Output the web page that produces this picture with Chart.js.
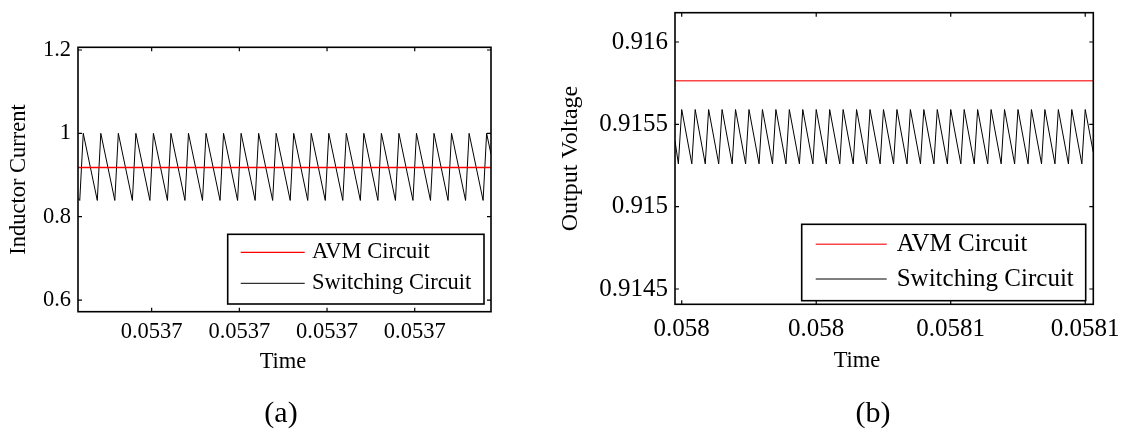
<!DOCTYPE html>
<html lang="en">
<head>
<meta charset="UTF-8">
<title>Inductor current and output voltage</title>
<script src="https://cdn.jsdelivr.net/npm/chart.js@4"></script>
<style>
  body {
    margin: 0;
    background: #fff;
    width: 1125px;
    height: 433px;
    position: relative;
    overflow: hidden;
    font-family: "Liberation Serif", "Times New Roman", serif;
  }
  canvas { position: absolute; top: 0; }
  .lbl {
    position: absolute;
    transform: translate(-50%, -50%);
    line-height: 1;
    white-space: nowrap;
    color: #000;
  }
</style>
</head>
<body>
<canvas id="currentChart" width="560" height="433" style="left:0"></canvas>
<canvas id="voltageChart" width="575" height="433" style="left:550px"></canvas>
<div class="lbl" style="left:283px;top:361px;font-size:22.5px">Time</div>
<div class="lbl" style="left:857px;top:360px;font-size:22.5px">Time</div>
<div class="lbl" style="left:281px;top:412px;font-size:30px">(a)</div>
<div class="lbl" style="left:873px;top:412px;font-size:30px">(b)</div>

<script>
// ---- (a) inductor current ----
const timeA = [
  0.0536516,
  0.0536518, 0.0536522,
  0.0536538, 0.0536542,
  0.0536558, 0.0536562,
  0.0536578, 0.0536582,
  0.0536598, 0.0536602,
  0.0536618, 0.0536622,
  0.0536638, 0.0536642,
  0.0536658, 0.0536662,
  0.0536678, 0.0536682,
  0.0536698, 0.0536702,
  0.0536718, 0.0536722,
  0.0536738, 0.0536742,
  0.0536758, 0.0536762,
  0.0536778, 0.0536782,
  0.0536798, 0.0536802,
  0.0536818, 0.0536822,
  0.0536838, 0.0536842,
  0.0536858, 0.0536862,
  0.0536878, 0.0536882,
  0.0536898, 0.0536902,
  0.0536918, 0.0536922,
  0.0536938, 0.0536942,
  0.0536958, 0.0536962,
  0.0536978, 0.0536982,
  0.0536987
];
const currentA = [
  0.845,
  0.839, 1.0,
  0.839, 1.0,
  0.839, 1.0,
  0.839, 1.0,
  0.839, 1.0,
  0.839, 1.0,
  0.839, 1.0,
  0.839, 1.0,
  0.839, 1.0,
  0.839, 1.0,
  0.839, 1.0,
  0.839, 1.0,
  0.839, 1.0,
  0.839, 1.0,
  0.839, 1.0,
  0.839, 1.0,
  0.839, 1.0,
  0.839, 1.0,
  0.839, 1.0,
  0.839, 1.0,
  0.839, 1.0,
  0.839, 1.0,
  0.839, 1.0,
  0.839, 1.0,
  0.95
];
const avmTimeA = [0.0536516, 0.0536987];
const avmCurrentA = [0.918, 0.918];
const xTicksA = [0.05366, 0.05367, 0.05368, 0.05369];
const xLabelsA = ['0.0537', '0.0537', '0.0537', '0.0537'];
const yTicksA = [0.6, 0.8, 1.0, 1.2];
const yLabelsA = ['0.6', '0.8', '1', '1.2'];

// ---- (b) output voltage ----
const timeB = [
  0.0580190,
  0.0580195, 0.0580200,
  0.0580215, 0.0580220,
  0.0580235, 0.0580240,
  0.0580255, 0.0580260,
  0.0580275, 0.0580280,
  0.0580295, 0.0580300,
  0.0580315, 0.0580320,
  0.0580335, 0.0580340,
  0.0580355, 0.0580360,
  0.0580375, 0.0580380,
  0.0580395, 0.0580400,
  0.0580415, 0.0580420,
  0.0580435, 0.0580440,
  0.0580455, 0.0580460,
  0.0580475, 0.0580480,
  0.0580495, 0.0580500,
  0.0580515, 0.0580520,
  0.0580535, 0.0580540,
  0.0580555, 0.0580560,
  0.0580575, 0.0580580,
  0.0580595, 0.0580600,
  0.0580615, 0.0580620,
  0.0580635, 0.0580640,
  0.0580655, 0.0580660,
  0.0580675, 0.0580680,
  0.0580695, 0.0580700,
  0.0580715, 0.0580720,
  0.0580735, 0.0580740,
  0.0580755, 0.0580760,
  0.0580775, 0.0580780,
  0.0580795, 0.0580800,
  0.0580812
];
const voltageB = [
  0.91540,
  0.91526, 0.91559,
  0.91526, 0.91559,
  0.91526, 0.91559,
  0.91526, 0.91559,
  0.91526, 0.91559,
  0.91526, 0.91559,
  0.91526, 0.91559,
  0.91526, 0.91559,
  0.91526, 0.91559,
  0.91526, 0.91559,
  0.91526, 0.91559,
  0.91526, 0.91559,
  0.91526, 0.91559,
  0.91526, 0.91559,
  0.91526, 0.91559,
  0.91526, 0.91559,
  0.91526, 0.91559,
  0.91526, 0.91559,
  0.91526, 0.91559,
  0.91526, 0.91559,
  0.91526, 0.91559,
  0.91526, 0.91559,
  0.91526, 0.91559,
  0.91526, 0.91559,
  0.91526, 0.91559,
  0.91526, 0.91559,
  0.91526, 0.91559,
  0.91526, 0.91559,
  0.91526, 0.91559,
  0.91526, 0.91559,
  0.91526, 0.91559,
  0.91533
];
const avmTimeB = [0.0580190, 0.0580812];
const avmVoltageB = [0.915764, 0.915764];
const xTicksB = [0.05802, 0.05804, 0.05806, 0.05808];
const xLabelsB = ['0.058', '0.058', '0.0581', '0.0581'];
const yTicksB = [0.9145, 0.915, 0.9155, 0.916];
const yLabelsB = ['0.9145', '0.915', '0.9155', '0.916'];

const SERIF = '"Liberation Serif", "Times New Roman", serif';

// box around the plot, inward ticks on all four sides, legend inside the axes
const framePlugin = {
  id: 'frame',
  afterDatasetsDraw(chart, args, opts) {
    const { ctx, chartArea: a, scales } = chart;
    ctx.save();
    ctx.strokeStyle = '#000';
    ctx.lineWidth = 1.2;
    ctx.beginPath();
    scales.x.ticks.forEach(t => {
      const px = scales.x.getPixelForValue(t.value);
      ctx.moveTo(px, a.bottom); ctx.lineTo(px, a.bottom - opts.tickLen);
      ctx.moveTo(px, a.top); ctx.lineTo(px, a.top + opts.tickLen);
    });
    scales.y.ticks.forEach(t => {
      const py = scales.y.getPixelForValue(t.value);
      ctx.moveTo(a.left, py); ctx.lineTo(a.left + opts.tickLen, py);
      ctx.moveTo(a.right, py); ctx.lineTo(a.right - opts.tickLen, py);
    });
    ctx.stroke();
    ctx.lineWidth = opts.boxWidth;
    ctx.strokeRect(a.left, a.top, a.right - a.left, a.bottom - a.top);

    const L = opts.legend;
    const bx = a.right - L.right - L.width;
    const by = a.bottom - L.bottom - L.height;
    ctx.fillStyle = '#fff';
    ctx.fillRect(bx, by, L.width, L.height);
    ctx.strokeRect(bx, by, L.width, L.height);
    ctx.font = L.fontSize + 'px ' + SERIF;
    ctx.textBaseline = 'middle';
    ctx.textAlign = 'left';
    chart.data.datasets.forEach((ds, i) => {
      const y = by + L.rows[i];
      ctx.strokeStyle = ds.borderColor;
      ctx.lineWidth = ds.borderWidth;
      ctx.beginPath();
      ctx.moveTo(bx + L.lineStart, y);
      ctx.lineTo(bx + L.lineStart + L.lineLen, y);
      ctx.stroke();
      ctx.fillStyle = '#000';
      ctx.fillText(ds.label, bx + L.textStart, y);
    });
    ctx.restore();
  }
};

function points(xs, ys) {
  return xs.map((x, i) => ({ x: x, y: ys[i] }));
}

function drawPanel(id, p) {
  const fixSize = (prop, size) => scale => {
    scale[prop] = size;
    scale.paddingLeft = scale.paddingRight = scale.paddingTop = scale.paddingBottom = 0;
  };
  new Chart(document.getElementById(id), {
    type: 'line',
    data: {
      datasets: [
        {
          label: 'AVM Circuit',
          data: points(p.avmX, p.avmY),
          borderColor: p.red,
          borderWidth: p.redWidth,
          pointRadius: 0,
          order: 0
        },
        {
          label: 'Switching Circuit',
          data: points(p.swX, p.swY),
          borderColor: '#000',
          borderWidth: 1,
          pointRadius: 0,
          order: 1
        }
      ]
    },
    options: {
      responsive: false,
      animation: false,
      devicePixelRatio: 1,
      events: [],
      layout: { padding: p.padding },
      plugins: {
        legend: { display: false },
        tooltip: { enabled: false },
        frame: p.frame
      },
      scales: {
        x: {
          type: 'linear',
          min: p.xMin,
          max: p.xMax,
          afterBuildTicks: s => { s.ticks = p.xTicks.map(v => ({ value: v })); },
          afterFit: fixSize('height', 40),
          grid: { display: false, drawTicks: false },
          border: { display: false },
          ticks: {
            autoSkip: false,
            maxRotation: 0,
            padding: p.xTickPad,
            color: '#000',
            font: { family: SERIF, size: p.tickSize, lineHeight: 1.2 },
            callback: (v, i) => p.xLabels[i]
          }
        },
        y: {
          min: p.yMin,
          max: p.yMax,
          afterBuildTicks: s => { s.ticks = p.yTicks.map(v => ({ value: v })); },
          afterFit: fixSize('width', p.yWidth),
          grid: { display: false, drawTicks: false },
          border: { display: false },
          title: {
            display: true,
            text: p.yTitle,
            color: '#000',
            padding: { top: p.yTitlePad, bottom: 0 },
            font: { family: SERIF, size: p.yTitleSize, lineHeight: 1.2 }
          },
          ticks: {
            padding: 7,
            color: '#000',
            font: { family: SERIF, size: p.tickSize, lineHeight: 1 },
            callback: (v, i) => p.yLabels[i]
          }
        }
      }
    },
    plugins: [framePlugin]
  });
}

drawPanel('currentChart', {
  swX: timeA, swY: currentA,
  avmX: avmTimeA, avmY: avmCurrentA,
  red: '#ff0000', redWidth: 1.3,
  xMin: 0.0536516, xMax: 0.0536987,
  yMin: 0.572, yMax: 1.2065,
  xTicks: xTicksA, xLabels: xLabelsA,
  yTicks: yTicksA, yLabels: yLabelsA,
  yTitle: 'Inductor Current',
  tickSize: 22.5, yTitleSize: 22.5, yTitlePad: 5.5,
  xTickPad: 6.5, yWidth: 78,
  padding: { left: 0, top: 47.3, right: 69, bottom: 81.3 },
  frame: {
    tickLen: 4, boxWidth: 1.6,
    legend: {
      right: 7, bottom: 7.7, width: 256.3, height: 69.7,
      rows: [18, 49], lineStart: 13, lineLen: 64, textStart: 84.3, fontSize: 22.5
    }
  }
});

drawPanel('voltageChart', {
  swX: timeB, swY: voltageB,
  avmX: avmTimeB, avmY: avmVoltageB,
  red: 'rgb(250,70,70)', redWidth: 1.5,
  xMin: 0.0580190, xMax: 0.0580812,
  yMin: 0.914407, yMax: 0.916178,
  xTicks: xTicksB, xLabels: xLabelsB,
  yTicks: yTicksB, yLabels: yLabelsB,
  yTitle: 'Output Voltage',
  tickSize: 25, yTitleSize: 24, yTitlePad: 6,
  xTickPad: 10.5, yWidth: 125,
  padding: { left: 0, top: 12.7, right: 31.7, bottom: 88.7 },
  frame: {
    tickLen: 4, boxWidth: 1.6,
    legend: {
      right: 7.6, bottom: 3.6, width: 284, height: 76.4,
      rows: [20, 54.7], lineStart: 14, lineLen: 71, textStart: 95, fontSize: 25
    }
  }
});
</script>
</body>
</html>
